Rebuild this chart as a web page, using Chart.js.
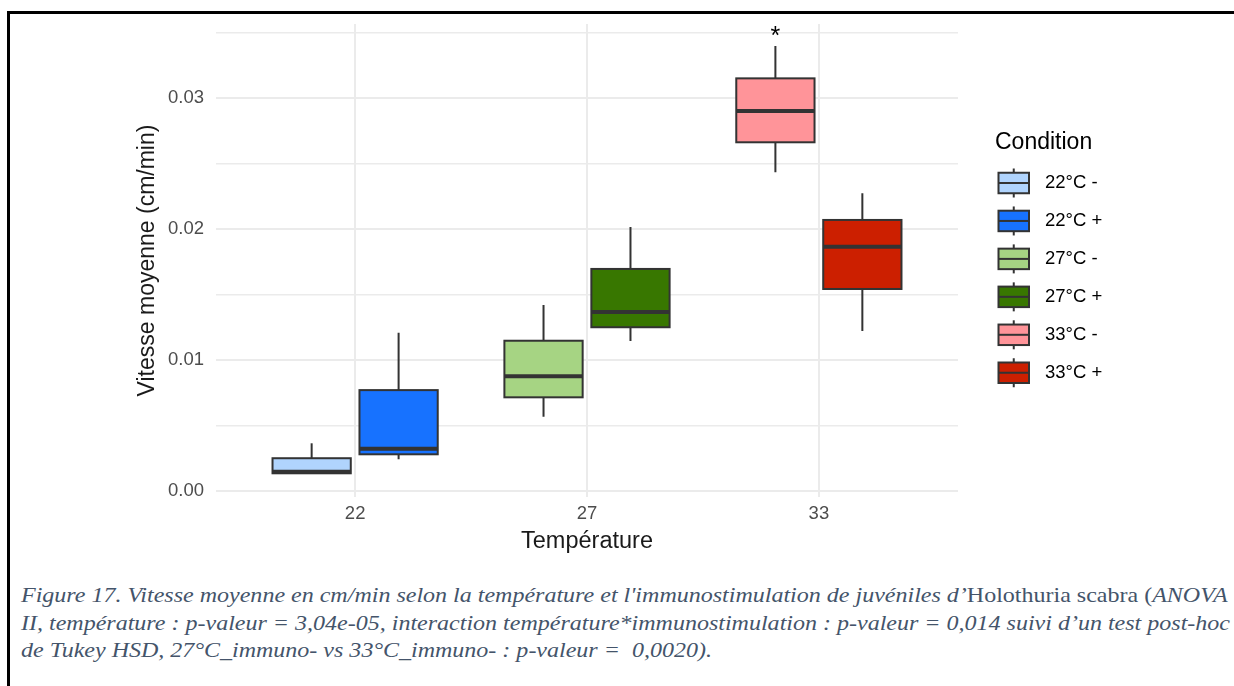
<!DOCTYPE html>
<html><head><meta charset="utf-8">
<script src="https://cdn.jsdelivr.net/npm/chart.js@4.4.1/dist/chart.umd.min.js"></script>
<style>
html,body{margin:0;padding:0;background:#fff;width:1234px;height:686px;overflow:hidden;}
#frame{position:absolute;left:7px;top:11px;width:1240px;height:700px;border-top:3px solid #000;border-left:3px solid #000;}
#wrap{position:absolute;left:0;top:0;width:1234px;height:560px;}
#cap{position:absolute;left:21px;top:582px;font-family:"Liberation Serif","Times New Roman",serif;font-style:italic;color:#44546A;font-size:21.5px;line-height:27.5px;white-space:nowrap;transform-origin:0 0;}
#cap .up{font-style:normal;}
</style></head><body>
<div id="frame"></div>
<div id="wrap"><canvas id="c" width="1234" height="560"></canvas></div>
<div id="cap"><span id="l1">Figure 17. Vitesse moyenne en cm/min selon la température et l'immunostimulation de juvéniles d’<span class="up">Holothuria scabra (</span>ANOVA</span><br><span id="l2">II, température : p-valeur = 3,04e-05, interaction température*immunostimulation : p-valeur = 0,014 suivi d’un test post-hoc</span><br><span id="l3">de Tukey HSD, 27°C_immuno- vs 33°C_immuno- : p-valeur = &nbsp;0,0020).</span></div>
<script>
// ---- data ----
const temperatures = ['22', '27', '33'];
const conditions = ['22°C -', '22°C +', '27°C -', '27°C +', '33°C -', '33°C +'];
const conditionTemp = ['22', '22', '27', '27', '33', '33'];
const immuno = ['-', '+', '-', '+', '-', '+'];
const whiskerLow  = [0.00135, 0.00242, 0.00567, 0.01145, 0.02433, 0.01221];
const q1          = [0.00135, 0.00280, 0.00715, 0.01250, 0.02662, 0.01542];
const median      = [0.00147, 0.00323, 0.00876, 0.01366, 0.02900, 0.01865];
const q3          = [0.00250, 0.00770, 0.01147, 0.01695, 0.03150, 0.02069];
const whiskerHigh = [0.00364, 0.01208, 0.01420, 0.02015, 0.03397, 0.02273];
const significance = ['', '', '', '', '*', ''];
const yTickValues = [0, 0.01, 0.02, 0.03];

// ---- styles ----
const fillColors = ['#B0D4FD', '#1772FF', '#A6D483', '#387700', '#FF9499', '#CC1F00'];
const FONT = '"Liberation Sans", Arial, sans-serif';
const OUTLINE = '#333333';

// compress caption horizontally so that line 2 spans the width seen in the reference
(function(){
  const cap = document.getElementById('cap');
  const l2 = document.getElementById('l2');
  const w = l2.getBoundingClientRect().width;
  const target = 1209;
  cap.style.transform = 'scaleX(' + (target / w).toFixed(4) + ')';
})();

const dodge = 0.1875, boxHalf = 0.16875;
function xPos(i){ return temperatures.indexOf(conditionTemp[i]) + 1 + (immuno[i] === '-' ? -dodge : dodge); }

const boxPlugin = {
  id: 'boxes',
  afterDatasetsDraw(chart) {
    const ctx = chart.ctx, xs = chart.scales.x, ys = chart.scales.y;
    ctx.save();
    conditions.forEach((c, i) => {
      const cx = xs.getPixelForValue(xPos(i));
      const xl = xs.getPixelForValue(xPos(i) - boxHalf);
      const xr = xs.getPixelForValue(xPos(i) + boxHalf);
      const yLo = ys.getPixelForValue(whiskerLow[i]);
      const yQ1 = ys.getPixelForValue(q1[i]);
      const yMed = ys.getPixelForValue(median[i]);
      const yQ3 = ys.getPixelForValue(q3[i]);
      const yHi = ys.getPixelForValue(whiskerHigh[i]);
      ctx.strokeStyle = OUTLINE;
      ctx.lineWidth = 2;
      ctx.beginPath();
      ctx.moveTo(cx, yHi); ctx.lineTo(cx, yQ3);
      ctx.moveTo(cx, yQ1); ctx.lineTo(cx, yLo);
      ctx.stroke();
      ctx.fillStyle = fillColors[i];
      ctx.fillRect(xl, yQ3, xr - xl, yQ1 - yQ3);
      ctx.strokeRect(xl, yQ3, xr - xl, yQ1 - yQ3);
      ctx.lineWidth = 4;
      ctx.beginPath();
      ctx.moveTo(xl, yMed); ctx.lineTo(xr, yMed);
      ctx.stroke();
      if (significance[i]) {
        ctx.fillStyle = '#000';
        ctx.font = '25px ' + FONT;
        ctx.textAlign = 'center';
        ctx.textBaseline = 'middle';
        ctx.fillText(significance[i], cx, ys.getPixelForValue(whiskerHigh[i]) - 9);
      }
    });
    // legend
    const lx = 995, titleBase = 148.5;
    ctx.fillStyle = '#000';
    ctx.font = '23px ' + FONT;
    ctx.textAlign = 'left';
    ctx.textBaseline = 'alphabetic';
    ctx.fillText('Condition', lx, titleBase);
    conditions.forEach((c, i) => {
      const cy = 183 + i * 37.95;
      const bx = 998.5, bw = 30.5, bh = 20.5;
      ctx.strokeStyle = OUTLINE;
      ctx.lineWidth = 2;
      ctx.beginPath();
      ctx.moveTo(bx + bw / 2, cy - 14.5); ctx.lineTo(bx + bw / 2, cy + 14.5);
      ctx.stroke();
      ctx.fillStyle = fillColors[i];
      ctx.fillRect(bx, cy - bh / 2, bw, bh);
      ctx.strokeRect(bx, cy - bh / 2, bw, bh);
      ctx.beginPath();
      ctx.moveTo(bx, cy); ctx.lineTo(bx + bw, cy);
      ctx.stroke();
      ctx.fillStyle = '#000';
      ctx.font = '18.5px ' + FONT;
      ctx.textBaseline = 'middle';
      ctx.fillText(c, 1045, cy);
    });
    ctx.restore();
  }
};

function isMajor(v){ return yTickValues.some(t => Math.abs(t - v) < 1e-9); }

new Chart(document.getElementById('c'), {
  type: 'scatter',
  data: {
    datasets: conditions.map((c, i) => ({
      label: c,
      data: [{x: xPos(i), y: whiskerLow[i]}, {x: xPos(i), y: whiskerHigh[i]}],
      pointRadius: 0, showLine: false
    }))
  },
  options: {
    responsive: false,
    animation: false,
    events: [],
    layout: { padding: { top: 24, right: 276, left: 0, bottom: 0 } },
    plugins: { legend: { display: false }, tooltip: { enabled: false } },
    scales: {
      x: {
        type: 'linear', min: 0.4, max: 3.6,
        afterFit(s){ s.height = 63; },
        border: { display: false },
        grid: { color: '#EBEBEB', lineWidth: 2, drawTicks: false },
        ticks: {
          stepSize: 1, includeBounds: false, padding: 6,
          color: '#4D4D4D', font: { family: FONT, size: 18.5 },
          callback: v => temperatures[Math.round(v) - 1] || ''
        },
        title: { display: true, text: 'Température', color: '#1a1a1a',
          font: { family: FONT, size: 23.5 }, padding: { top: 0, bottom: 4.5 } }
      },
      y: {
        min: -0.00046, max: 0.03565,
        afterFit(s){ s.width = 216; },
        border: { display: false },
        grid: {
          drawTicks: false,
          color: '#EBEBEB',
          lineWidth: c => (c.tick && isMajor(c.tick.value)) ? 2 : 1.4
        },
        ticks: {
          stepSize: 0.005, includeBounds: false, padding: 12,
          color: '#4D4D4D', font: { family: FONT, size: 18.5 },
          callback: v => isMajor(v) ? v.toFixed(2) : ''
        },
        title: { display: true, text: 'Vitesse moyenne (cm/min)', color: '#1a1a1a',
          font: { family: FONT, size: 23 }, padding: { top: 134, bottom: 0 } }
      }
    }
  },
  plugins: [boxPlugin]
});
</script>
</body></html>
